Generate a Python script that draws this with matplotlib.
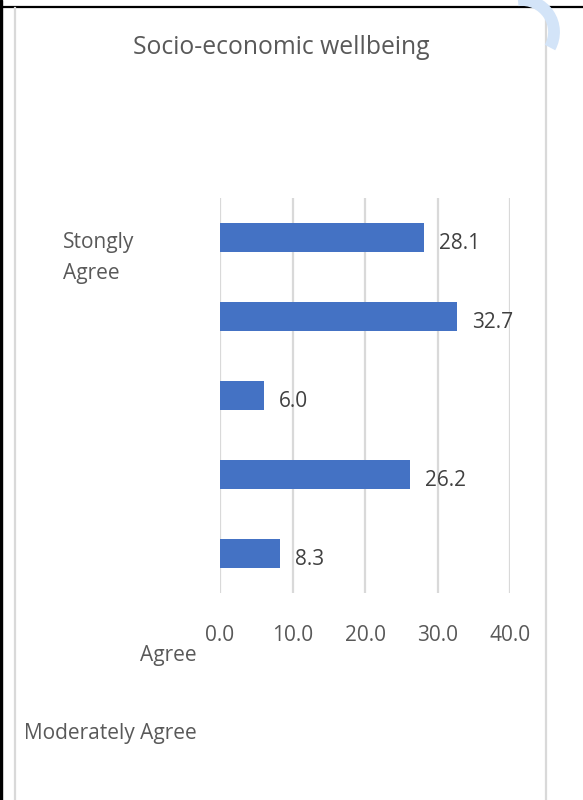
import numpy as np
import matplotlib.pyplot as plt
from matplotlib.patches import Arc
from matplotlib.lines import Line2D

titulo = "Socio-economic wellbeing"
valores = [28.1, 32.7, 6.0, 26.2, 8.3]
etiquetas = ["Stongly\nAgree", "Agree", "Moderately Agree"]
ticks_x = [0, 10, 20, 30, 40]

gris = "#595959"
azul = "#4472C4"
plt.rcParams["font.family"] = ["Open Sans", "DejaVu Sans"]

W, H = 583, 800
fig = plt.figure(figsize=(W / 100, H / 100), dpi=100)

def px(x, y):
    return x / W, 1 - y / H

# marco del documento y del grafico
fig.patches.append(plt.Rectangle((0, 0), 2 / W, 1, transform=fig.transFigure, color="black"))
fig.add_artist(Line2D([2 / W, 1], [1 - 6.5 / H] * 2, transform=fig.transFigure, color="black", lw=1.6))
for xb in (15, 546):
    fig.add_artist(Line2D([xb / W] * 2, [0, 1 - 7.5 / H], transform=fig.transFigure, color="#D9D9D9", lw=1.6))

# marca de agua azul
arco = Arc(px(522, 32), 64 / W, 64 / H, angle=0, theta1=-22, theta2=100,
           transform=fig.transFigure, color="#D3E4F8", lw=8.5, zorder=10)
fig.add_artist(arco)

ax = fig.add_axes([220 / W, 1 - 593 / H, 290 / W, 395 / H])
y = np.arange(len(valores))
ax.barh(y, valores, height=0.37, color=azul, zorder=3)
ax.set_ylim(len(valores) - 0.5, -0.5)
ax.set_xlim(0, 40)
ax.set_xticks(ticks_x)
ax.set_xticklabels([f"{t:.1f}" for t in ticks_x], fontsize=15, color=gris)
ax.tick_params(axis="x", length=0, pad=23)
ax.set_yticks([])
ax.grid(axis="x", color="#D9D9D9", lw=1.6, zorder=0)
for s in ax.spines.values():
    s.set_visible(False)

for i, v in enumerate(valores):
    ax.annotate(f"{v:.1f}", (v, i), xytext=(11, -4), textcoords="offset points",
                ha="left", va="center", fontsize=15, color="#404040")

fig.text(*px(281, 48), titulo, ha="center", va="center", fontsize=17.8, color=gris)
fig.text(*px(63, 258), etiquetas[0], ha="left", va="center", fontsize=15, color=gris, linespacing=1.65)
fig.text(*px(197, 655), etiquetas[1], ha="right", va="center", fontsize=15, color=gris)
fig.text(*px(197, 733), etiquetas[2], ha="right", va="center", fontsize=15, color=gris)

fig.savefig("out.png", dpi=100)
